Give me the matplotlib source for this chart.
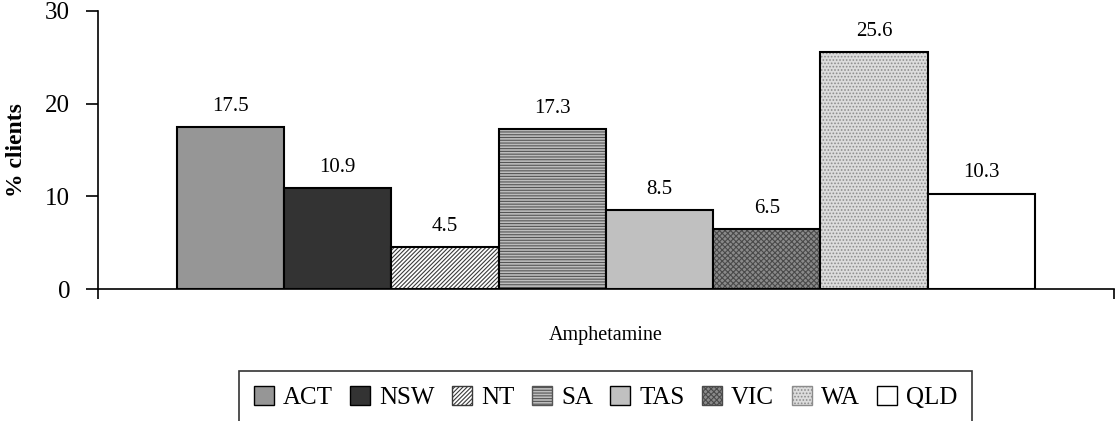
import matplotlib
matplotlib.use('Agg')
import matplotlib.pyplot as plt
from matplotlib.patches import Patch

states = ['ACT', 'NSW', 'NT', 'SA', 'TAS', 'VIC', 'WA', 'QLD']
values = [17.5, 10.9, 4.5, 17.3, 8.5, 6.5, 25.6, 10.3]
category = 'Amphetamine'

# face colour, hatch, hatch colour
styles = [
    ('#969696', None, None),
    ('#333333', None, None),
    ('#ffffff', '////////', '#3a3a3a'),
    ('#bdbdbd', '------', '#555555'),
    ('#c0c0c0', None, None),
    ('#8a8a8a', 'xxxxxx', '#4a4a4a'),
    ('#dcdcdc', '.....', '#8c8c8c'),
    ('#ffffff', None, None),
]

plt.rcParams['font.family'] = ['Liberation Serif', 'DejaVu Serif']
plt.rcParams['hatch.linewidth'] = 0.8

fig = plt.figure(figsize=(11.15, 4.21), dpi=100)
ax = fig.add_axes([0.0879, 0.3135, 0.9111, 0.6605])

handles = []
for i, (st, v) in enumerate(zip(states, values)):
    fc, hatch, hc = styles[i]
    if hatch:
        ax.bar(i, v, width=1.0, color=fc, edgecolor=hc, hatch=hatch, linewidth=0)
    else:
        ax.bar(i, v, width=1.0, color=fc, linewidth=0)
    ax.bar(i, v, width=1.0, fill=False, edgecolor='black', linewidth=1.5)
    ax.annotate(f'{v}', (i, v), xytext=(0, 8), textcoords='offset points',
                ha='center', va='bottom', fontsize=15)
    handles.append(Patch(facecolor=fc, edgecolor=hc if hatch else 'black',
                         hatch=hatch, linewidth=1.0, label=st))

ax.set_xlim(-1.235, 8.235)
ax.set_ylim(0, 30)
ax.set_yticks([0, 10, 20, 30])
ax.set_xticks([-1.235, 8.235])
ax.set_xticklabels(['', ''])
ax.tick_params(axis='y', direction='out', length=9, width=1.2, labelsize=18, pad=11)
ax.tick_params(axis='x', direction='out', length=7, width=1.2)
for s in ['top', 'right']:
    ax.spines[s].set_visible(False)
for s in ['left', 'bottom']:
    ax.spines[s].set_linewidth(1.2)

ax.set_xlabel(category, fontsize=14.5, labelpad=16)
ax.set_ylabel('% clients', fontsize=17, fontweight='bold', labelpad=13)

leg = fig.legend(handles=handles, loc='upper center', bbox_to_anchor=(0.543, 0.119),
                 ncol=8, fontsize=18, frameon=True, fancybox=False,
                 handlelength=0.8, handleheight=0.8, handletextpad=0.36,
                 columnspacing=0.7, borderpad=0.6, borderaxespad=0,
                 edgecolor='black')
leg.get_frame().set_linewidth(1.2)

fig.savefig('out.png', dpi=100)
